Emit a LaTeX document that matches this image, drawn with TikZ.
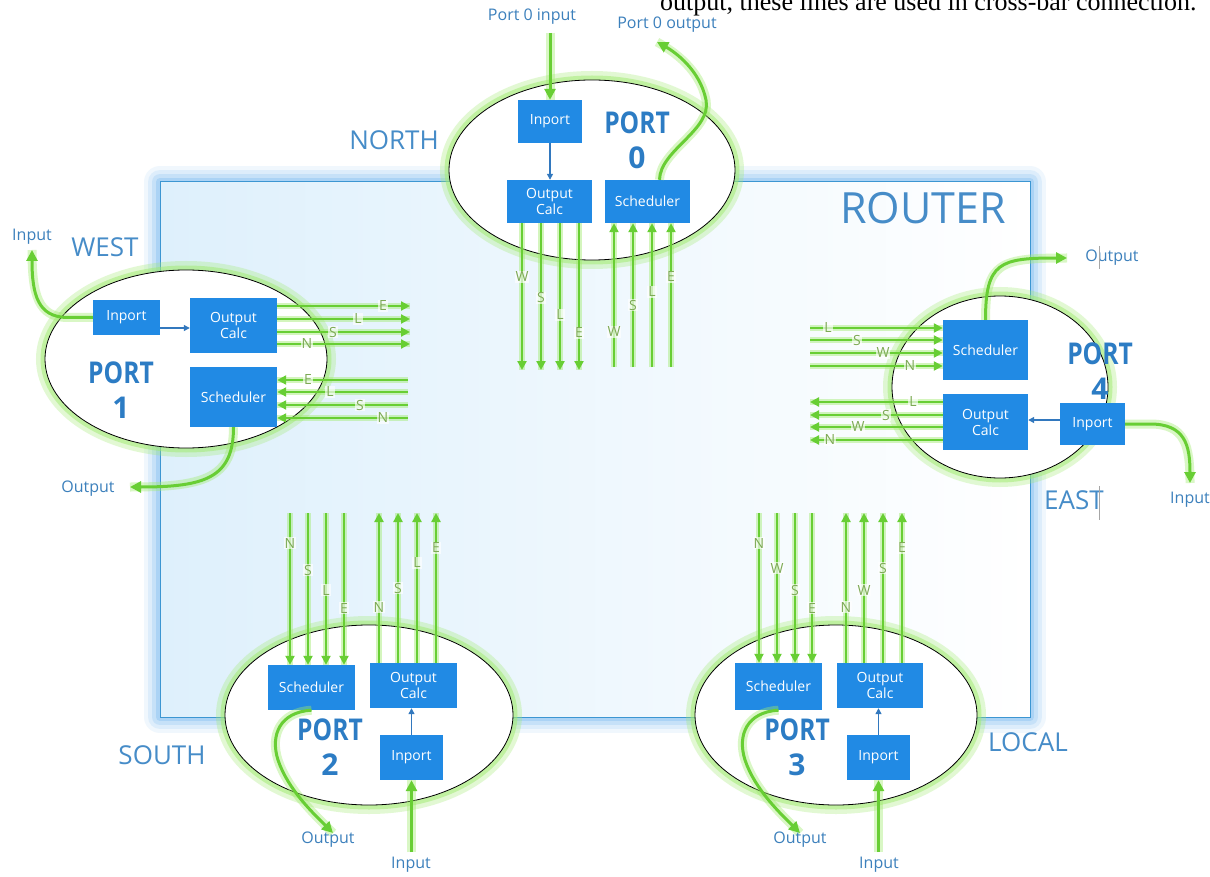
\documentclass[tikz,border=0pt]{standalone}
\usepackage{fontspec}
\setmainfont{Open Sans}
\newfontfamily\topserif{Liberation Serif}
\usetikzlibrary{arrows.meta,shapes.geometric}
\definecolor{boxblue}{RGB}{33,138,228}
\definecolor{portblue}{RGB}{44,124,196}
\definecolor{dirblue}{RGB}{70,140,200}
\definecolor{lblblue}{RGB}{60,128,188}
\definecolor{gline}{RGB}{104,206,52}
\definecolor{gglow}{RGB}{160,235,110}
\definecolor{ltxt}{RGB}{125,170,85}
\definecolor{rborder}{RGB}{60,150,210}
\definecolor{rglow}{RGB}{110,180,240}
\definecolor{rfill}{RGB}{222,240,252}
\definecolor{arrblue}{RGB}{50,120,190}
\begin{document}
\begin{tikzpicture}[x=1pt,y=-1pt,
  box/.style={fill=boxblue, text=white, font=\fontsize{14}{16}\selectfont, align=center, inner sep=0pt},
  portell/.style={ellipse, draw=black, line width=0.8pt, fill=white, inner sep=0pt,
     preaction={draw=gglow, line width=18pt, opacity=0.3},
     preaction={draw=gglow, line width=9pt, opacity=0.5}},
  xline/.style={draw=gline, line width=2.2pt, -{Triangle[length=9pt,width=9pt]},
     preaction={draw=gglow, line width=6pt, opacity=0.45, -}},
  bigarrow/.style={draw=gline, line width=3pt, -{Triangle[length=11pt,width=11pt]},
     preaction={draw=gglow, line width=9pt, opacity=0.4, -}},
  barrow/.style={draw=arrblue, line width=1.2pt, -{Triangle[length=6pt,width=6pt]}},
  xlbl/.style={text=ltxt, font=\fontsize{14}{14}\selectfont, fill=white, fill opacity=0.65, text opacity=1, inner sep=1pt},
  portlbl/.style={text=portblue, font=\bfseries\fontsize{30}{35}\selectfont, align=center, inner sep=0pt},
  dirlbl/.style={text=dirblue, font=\fontsize{26}{26}\selectfont, inner sep=0pt},
  iolbl/.style={text=lblblue, font=\fontsize{16}{16}\selectfont, inner sep=0pt}
]
\useasboundingbox (0,0) rectangle (1210,877);
\fill[white] (0,0) rectangle (1210,877);

% router
\coordinate (rtl) at (160,182);
\coordinate (rbr) at (1030,717);
\foreach \w/\o in {32/0.10,24/0.14,16/0.2,8/0.3}
  \draw[rglow, line width=\w pt, opacity=\o, line join=round] (rtl) rectangle (rbr);
\shade[left color=rfill, right color=white] (rtl) rectangle (rbr);
\draw[rborder, line width=1pt] (rtl) rectangle (rbr);

% port ellipses
\node[portell, minimum width=286pt, minimum height=180pt] (e0) at (592,170) {};
\node[portell, minimum width=282pt, minimum height=178pt] (e1) at (186,359) {};
\node[portell, minimum width=216pt, minimum height=182pt] (e4) at (1000,387) {};
\node[portell, minimum width=288pt, minimum height=180pt] (e2) at (369,715) {};
\node[portell, minimum width=282pt, minimum height=180pt] (e3) at (836,715) {};

% direction labels
\node[text=dirblue, font=\fontsize{43}{43}\selectfont, inner sep=0pt] (router) at (923,208) {ROUTER};
\node[dirlbl] (north) at (394,140) {NORTH};
\node[dirlbl] (west) at (105,247) {WEST};
\node[dirlbl] (east) at (1074,500) {EAST};
\node[dirlbl] (south) at (162,755) {SOUTH};
\node[dirlbl] (local) at (1028,742) {LOCAL};

% boxes
\node[box, minimum width=64pt, minimum height=43pt] (p0in) at (550,121.5) {Inport};
\node[box, minimum width=85pt, minimum height=43pt] (p0oc) at (549.5,201.5) {Output\\Calc};
\node[box, minimum width=85pt, minimum height=43pt] (p0sc) at (647.5,201.5) {Scheduler};

\node[box, minimum width=67pt, minimum height=35pt] (p1in) at (126.5,317.5) {Inport};
\node[box, minimum width=87pt, minimum height=55pt] (p1oc) at (233.5,325.5) {Output\\Calc};
\node[box, minimum width=87pt, minimum height=60pt] (p1sc) at (233.5,397) {Scheduler};

\node[box, minimum width=85pt, minimum height=60pt] (p4sc) at (985.5,350) {Scheduler};
\node[box, minimum width=85pt, minimum height=56pt] (p4oc) at (985.5,422) {Output\\Calc};
\node[box, minimum width=65pt, minimum height=42pt] (p4in) at (1092.5,424) {Inport};

\node[box, minimum width=87pt, minimum height=45pt] (p2sc) at (311.5,687.5) {Scheduler};
\node[box, minimum width=87pt, minimum height=45pt] (p2oc) at (413.5,685.5) {Output\\Calc};
\node[box, minimum width=63pt, minimum height=45pt] (p2in) at (411.5,757.5) {Inport};

\node[box, minimum width=87pt, minimum height=47pt] (p3sc) at (778.5,686.5) {Scheduler};
\node[box, minimum width=86pt, minimum height=45pt] (p3oc) at (880,685.5) {Output\\Calc};
\node[box, minimum width=63pt, minimum height=45pt] (p3in) at (878.5,757.5) {Inport};

% crossbar lines, port 0
\foreach \x/\l/\ly in {522/W/277,541/S/298,560/L/315,579/E/333}{
  \coordinate (p0d\x) at (\x,370);
  \draw[xline] (p0oc.south -| p0d\x) -- (p0d\x);
  \node[xlbl] (p0dl\x) at (\x,\ly) {\l};
}
\foreach \x/\l/\ly in {614/W/332,633/S/305,652/L/292,671/E/277}{
  \coordinate (p0u\x) at (\x,367);
  \draw[xline] (p0u\x) -- (p0sc.south -| p0u\x);
  \node[xlbl] (p0ul\x) at (\x,\ly) {\l};
}
% port 1
\foreach \y/\l/\lx in {306/E/383,319/L/358,332/S/333,344/N/307}{
  \coordinate (p1o\y) at (410,\y);
  \draw[xline] (p1oc.east |- p1o\y) -- (p1o\y);
  \node[xlbl] (p1ol\y) at (\lx,\y) {\l};
}
\foreach \y/\l/\lx in {380/E/308,392/L/330,405/S/360,418/N/383}{
  \coordinate (p1i\y) at (408,\y);
  \draw[xline] (p1i\y) -- (p1sc.east |- p1i\y);
  \node[xlbl] (p1il\y) at (\lx,\y) {\l};
}
% port 4
\foreach \y/\l/\lx in {328/L/828,340/S/857,353/W/883,366/N/910}{
  \coordinate (p4i\y) at (810,\y);
  \draw[xline] (p4i\y) -- (p4sc.west |- p4i\y);
  \node[xlbl] (p4il\y) at (\lx,\y) {\l};
}
\foreach \y/\l/\lx in {402/L/913,415/S/886,427/W/858,440/N/830}{
  \coordinate (p4o\y) at (810,\y);
  \draw[xline] (p4oc.west |- p4o\y) -- (p4o\y);
  \node[xlbl] (p4ol\y) at (\lx,\y) {\l};
}
% port 2
\foreach \x/\l/\ly in {290/N/543,308/S/570,326/L/590,344/E/608}{
  \coordinate (p2d\x) at (\x,513);
  \draw[xline] (p2d\x) -- (p2sc.north -| p2d\x);
  \node[xlbl] (p2dl\x) at (\x,\ly) {\l};
}
\foreach \x/\l/\ly in {379/N/607,398/S/588,417/L/563,436/E/548}{
  \coordinate (p2u\x) at (\x,513);
  \draw[xline] (p2oc.north -| p2u\x) -- (p2u\x);
  \node[xlbl] (p2ul\x) at (\x,\ly) {\l};
}
% port 3
\foreach \x/\l/\ly in {759/N/543,777/W/568,795/S/590,812/E/608}{
  \coordinate (p3d\x) at (\x,513);
  \draw[xline] (p3d\x) -- (p3sc.north -| p3d\x);
  \node[xlbl] (p3dl\x) at (\x,\ly) {\l};
}
\foreach \x/\l/\ly in {846/N/607,864/W/590,883/S/568,902/E/548}{
  \coordinate (p3u\x) at (\x,513);
  \draw[xline] (p3oc.north -| p3u\x) -- (p3u\x);
  \node[xlbl] (p3ul\x) at (\x,\ly) {\l};
}

% inport -> output calc
\draw[barrow] (p0in.south) -- (p0in.south |- p0oc.north);
\coordinate (p1a) at (160,328);
\draw[barrow] (p1a) -- (p1a -| p1oc.west);
\coordinate (p4a) at (1060,420);
\draw[barrow] (p4a) -- (p4a -| p4oc.east);
\draw[barrow] (p2in.north) -- (p2in.north |- p2oc.south);
\draw[barrow] (p3in.north) -- (p3in.north |- p3oc.south);

% input / output arrows
\coordinate (p0i) at (550,33);
\coordinate (p0o) at (657,42);
\draw[bigarrow] (p0i) -- (p0in.north);
\draw[bigarrow] ([xshift=12pt]p0sc.north) .. controls (660,150) and (712,130) .. (706,100)
   .. controls (700,70) and (675,52) .. (p0o);

\coordinate (p1i) at (32,250);
\coordinate (p1o) at (130,487);
\draw[bigarrow] (p1in.west) -- (68,317.5) .. controls (38,317.5) and (32,295) .. (p1i);
\draw[bigarrow] (p1sc.south) .. controls (233.5,478) and (205,487) .. (p1o);

\coordinate (p4o) at (1067,258);
\coordinate (p4i) at (1190,483);
\draw[bigarrow] (p4sc.north) .. controls (985.5,262) and (1000,258) .. (p4o);
\draw[bigarrow] (p4in.east) -- (1150,424) .. controls (1185,424) and (1190,445) .. (p4i);

\coordinate (p2o) at (333,833);
\coordinate (p2i) at (411.5,852);
\draw[bigarrow] (p2sc.south) .. controls (280,712) and (270,735) .. (278,760)
   .. controls (288,790) and (315,815) .. (p2o);
\draw[bigarrow] (p2i) -- (p2in.south);

\coordinate (p3o) at (800,833);
\coordinate (p3i) at (878.5,852);
\draw[bigarrow] (p3sc.south) .. controls (747,712) and (737,735) .. (745,760)
   .. controls (755,790) and (782,815) .. (p3o);
\draw[bigarrow] (p3i) -- (p3in.south);

% port labels
\node[portlbl] (pl0) at (637,140) {\scalebox{0.82}[1]{PORT}\\0};
\node[portlbl] (pl1) at (121,390) {\scalebox{0.82}[1]{PORT}\\1};
\node[portlbl] (pl4) at (1100,371) {\scalebox{0.82}[1]{PORT}\\4};
\node[portlbl] (pl2) at (330,747) {\scalebox{0.82}[1]{PORT}\\2};
\node[portlbl] (pl3) at (797,747) {\scalebox{0.82}[1]{PORT}\\3};

% io labels
\node[iolbl] (t0i) at (532,17) {Port 0 input};
\node[iolbl] (t0o) at (667,25) {Port 0 output};
\node[iolbl] (t1i) at (32,237) {Input};
\node[iolbl] (t1o) at (88,489) {Output};
\node[iolbl] (t4o) at (1112,258) {Output};
\node[iolbl] (t4i) at (1190,500) {Input};
\node[iolbl] (t2o) at (328,840) {Output};
\node[iolbl] (t2i) at (411,865) {Input};
\node[iolbl] (t3o) at (800,840) {Output};
\node[iolbl] (t3i) at (879,865) {Input};

% stray marks
\draw[gray!70, line width=0.6pt] (1099,246) -- (1099,269);
\draw[gray!70, line width=0.6pt] (1099,486) -- (1099,520);

% caption fragment at top (cut off by the top edge, as in the reference)
\node[anchor=base west, font=\topserif\fontsize{26}{26}\selectfont, inner sep=0pt] (cap) at (660,11)
  {output, these lines are used in cross-bar connection.};
\end{tikzpicture}
\end{document}
